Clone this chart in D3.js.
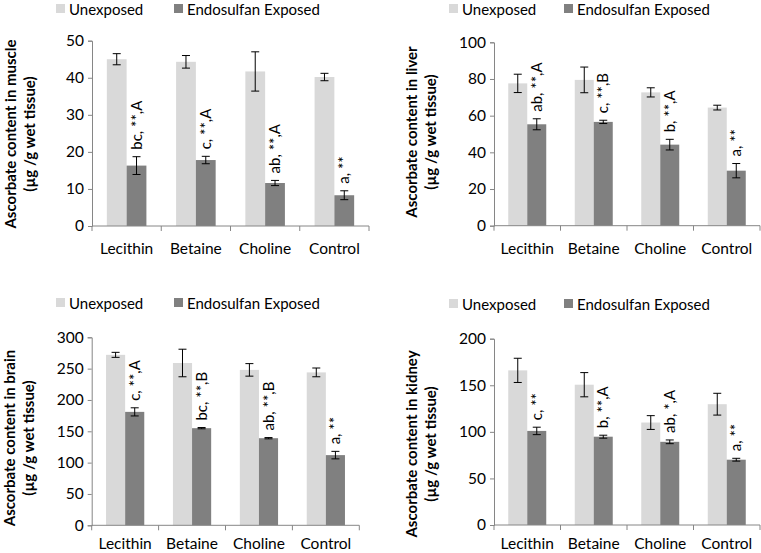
<!DOCTYPE html>
<html><head><meta charset="utf-8">
<script src="https://cdnjs.cloudflare.com/ajax/libs/d3/7.8.5/d3.min.js"></script>
<style>
html,body{margin:0;padding:0;background:#fff;}
svg{display:block;font-family:Lato,"Open Sans",sans-serif;}
</style></head>
<body>
<svg id="chart" width="761" height="553"></svg>
<script>
const categories = ["Lecithin", "Betaine", "Choline", "Control"];
const seriesNames = ["Unexposed", "Endosulfan Exposed"];

const muscleUnexposed = [45.0, 44.3, 41.7, 40.2];
const muscleUnexposedErr = [1.5, 1.7, 5.3, 1.0];
const muscleExposed = [16.3, 17.8, 11.6, 8.3];
const muscleExposedErr = [2.4, 1.0, 0.7, 1.2];
const muscleLabels = ["bc, **,A", "c, **,A", "ab, **,A", "a, **"];
const muscleTicks = [0, 10, 20, 30, 40, 50];

const liverUnexposed = [77.6, 79.5, 72.7, 64.4];
const liverUnexposedErr = [5.0, 7.0, 2.5, 1.3];
const liverExposed = [55.3, 56.6, 44.2, 30.0];
const liverExposedErr = [3.0, 0.9, 2.9, 3.9];
const liverLabels = ["ab, **,A", "c, **,B", "b, **,A", "a, **"];
const liverTicks = [0, 20, 40, 60, 80, 100];

const brainUnexposed = [272, 259, 248, 244];
const brainUnexposedErr = [4, 22, 10, 7];
const brainExposed = [181, 155, 139, 112];
const brainExposedErr = [6.5, 1, 1, 6];
const brainLabels = ["c, **,A", "bc, **,B", "ab, **,B", "a, **"];
const brainTicks = [0, 50, 100, 150, 200, 250, 300];

const kidneyUnexposed = [166, 150.6, 110, 129.7];
const kidneyUnexposedErr = [13, 13, 7.4, 11.7];
const kidneyExposed = [101, 94.8, 89.3, 70.1];
const kidneyExposedErr = [4, 1.6, 2, 1.5];
const kidneyLabels = ["c, **", "b, **,A", "ab, *,A", "a, **"];
const kidneyTicks = [0, 50, 100, 150, 200];

const colors = ["#d9d9d9", "#808080"];
const axisColor = "#868686";
const svg = d3.select("#chart");

const panels = [
  {tissue:"muscle", u:muscleUnexposed, ue:muscleUnexposedErr, e:muscleExposed, ee:muscleExposedErr, labels:muscleLabels, ticks:muscleTicks,
   x0:92, x1:369, yTop:40.7, yBot:226, catY:28, legY:8, legX:56, leg2X:174, titleX:11, titleY:134},
  {tissue:"liver", u:liverUnexposed, ue:liverUnexposedErr, e:liverExposed, ee:liverExposedErr, labels:liverLabels, ticks:liverTicks,
   x0:494, x1:760, yTop:42.3, yBot:225.7, catY:28, legY:8, legX:449, leg2X:564, titleX:412, titleY:132},
  {tissue:"brain", u:brainUnexposed, ue:brainUnexposedErr, e:brainExposed, ee:brainExposedErr, labels:brainLabels, ticks:brainTicks,
   x0:91.7, x1:359.3, yTop:337.3, yBot:525.3, catY:24, legY:302, legX:56, leg2X:174, titleX:10, titleY:438},
  {tissue:"kidney", u:kidneyUnexposed, ue:kidneyUnexposedErr, e:kidneyExposed, ee:kidneyExposedErr, labels:kidneyLabels, ticks:kidneyTicks,
   x0:494, x1:760, yTop:338.7, yBot:525, catY:24, legY:303, legX:449, leg2X:564, titleX:412, titleY:444}
];

panels.forEach(p => {
  const g = svg.append("g");
  const x = d3.scaleBand().domain(categories).range([p.x0, p.x1]).padding(0);
  const bw = x.bandwidth();
  const barW = bw / 3.5;
  const xs = d3.scaleBand().domain([0, 1]).range([barW * 0.75, bw - barW * 0.75]).padding(0);
  const y = d3.scaleLinear().domain([d3.min(p.ticks), d3.max(p.ticks)]).range([p.yBot, p.yTop]);

  const rows = categories.map((c, i) => ({c, i, vals:[p.u[i], p.e[i]], errs:[p.ue[i], p.ee[i]], label:p.labels[i]}));

  rows.forEach(r => {
    [0, 1].forEach(s => {
      g.append("rect")
        .attr("x", x(r.c) + xs(s))
        .attr("y", y(r.vals[s]))
        .attr("width", xs.bandwidth())
        .attr("height", y(0) - y(r.vals[s]))
        .attr("fill", colors[s]);
    });
  });

  const yAxis = d3.axisLeft(y).tickValues(p.ticks).tickSize(4).tickPadding(4);
  const ya = g.append("g").attr("transform", `translate(${p.x0},0)`).call(yAxis);
  ya.select(".domain").attr("stroke", axisColor);
  ya.selectAll(".tick line").attr("stroke", axisColor);
  ya.selectAll(".tick text").attr("font-size", 15.5).attr("fill", "#000").attr("font-family", "Lato");

  const xa = g.append("g").attr("transform", `translate(0,${p.yBot})`);
  xa.append("line").attr("x1", p.x0).attr("x2", p.x1).attr("stroke", axisColor);
  const bounds = categories.map(c => x(c)).concat([p.x1]);
  bounds.forEach(b => xa.append("line").attr("x1", b).attr("x2", b).attr("y1", 0).attr("y2", 5).attr("stroke", axisColor));
  categories.forEach(c => {
    xa.append("text").attr("x", x(c) + bw / 2).attr("y", p.catY)
      .attr("text-anchor", "middle").attr("font-size", 15.5).text(c);
  });

  rows.forEach(r => {
    [0, 1].forEach(s => {
      const cx = x(r.c) + xs(s) + xs.bandwidth() / 2;
      const hi = y(r.vals[s] + r.errs[s]), lo = y(r.vals[s] - r.errs[s]);
      g.append("line").attr("x1", cx).attr("x2", cx).attr("y1", hi).attr("y2", lo).attr("stroke", "#000").attr("stroke-width", 1);
      [hi, lo].forEach(yy => g.append("line").attr("x1", cx - 4).attr("x2", cx + 4).attr("y1", yy).attr("y2", yy).attr("stroke", "#000").attr("stroke-width", 1));
    });
  });

  rows.forEach(r => {
    const cx = x(r.c) + xs(1) + xs.bandwidth() / 2;
    const top = y(r.vals[1] + r.errs[1]) - 7;
    g.append("text")
      .attr("transform", `translate(${cx + 5},${top}) rotate(-90)`)
      .attr("text-anchor", "start")
      .attr("font-size", 15)
      .text(r.label);
  });

  const lg = g.append("g");
  [p.legX, p.leg2X].forEach((lx, s) => {
    lg.append("rect").attr("x", lx).attr("y", p.legY - 4).attr("width", 9).attr("height", 9).attr("fill", colors[s]);
    lg.append("text").attr("x", lx + 13).attr("y", p.legY + 6.5).attr("font-size", 15).text(seriesNames[s]);
  });

  const t = g.append("text")
    .attr("transform", `translate(${p.titleX},${p.titleY}) rotate(-90)`)
    .attr("text-anchor", "middle").attr("font-weight", "bold").attr("font-size", 15);
  t.append("tspan").attr("x", 0).attr("dy", "0.35em").text(`Ascorbate content in ${p.tissue}`);
  t.append("tspan").attr("x", 0).attr("dy", 18.5).text("(µg /g wet tissue)");
});
</script>
</body></html>
